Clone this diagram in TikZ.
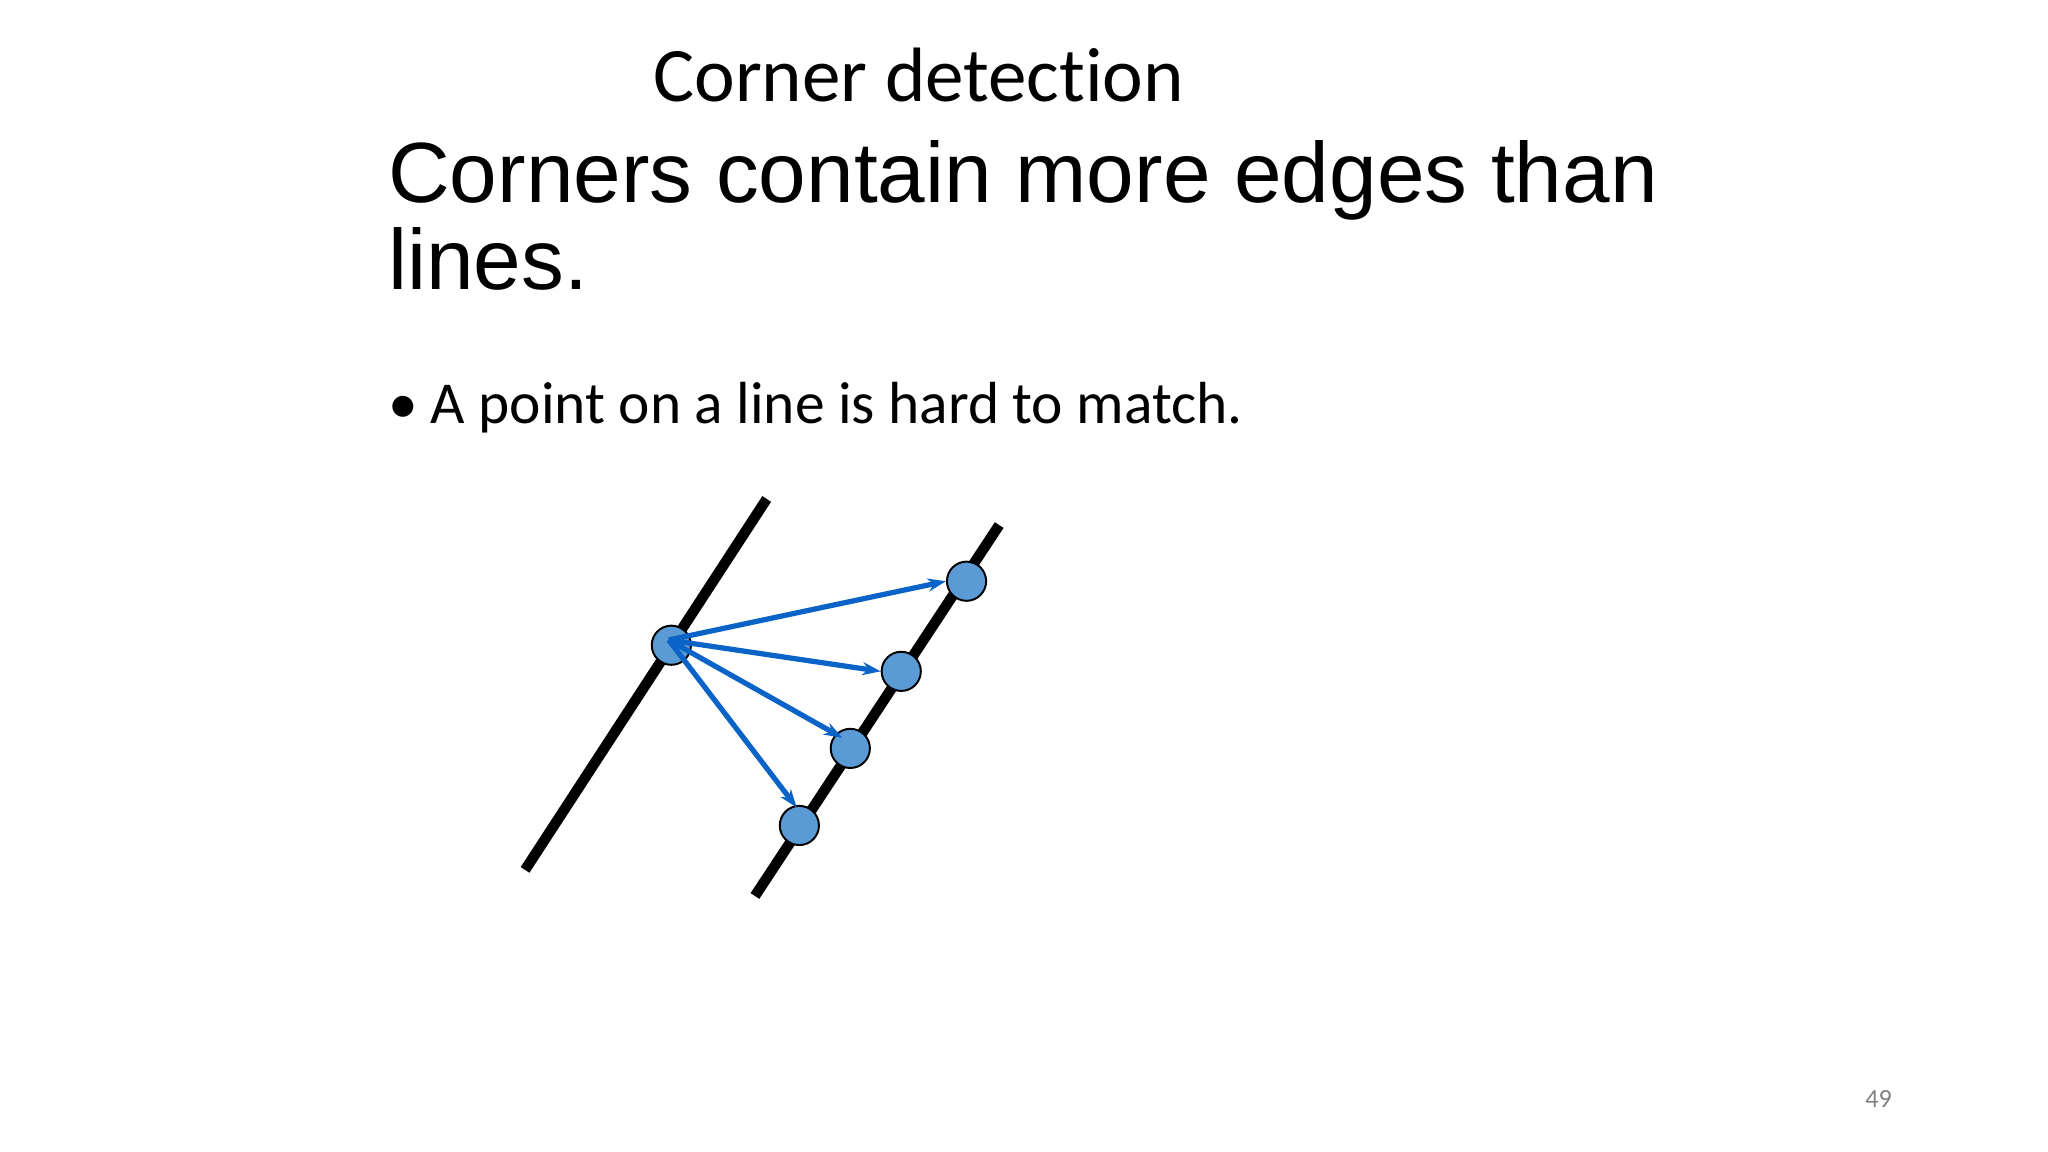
\documentclass[tikz,border=0pt]{standalone}
\usepackage{fontspec}
\setmainfont[Ligatures=NoCommon]{Carlito}
\newfontfamily\arialf{Liberation Sans}
\usetikzlibrary{arrows.meta}
\definecolor{dotblue}{RGB}{91,155,213}
\definecolor{arrblue}{RGB}{10,100,200}
\begin{document}
\begin{tikzpicture}[x=1pt,y=-1pt,
  txt/.style={anchor=base west,inner sep=0pt},
  edgeline/.style={line width=8pt},
  dot/.style={circle,draw=black,line width=1.5pt,fill=dotblue,minimum size=30pt,inner sep=0pt},
  arr/.style={arrblue,line width=4pt,-{Stealth[length=14pt,width=10pt]}}]
\useasboundingbox[fill=white] (0,0) rectangle (1568,882);
\node[txt,font=\fontsize{59}{70}\selectfont] (title) at (500,78) {Corner detection};
\node[txt,font=\arialf\fontsize{65.5}{80}\selectfont] (h1) at (297,155) {Corners contain more edges than};
\node[txt,font=\arialf\fontsize{65.5}{80}\selectfont] (h2) at (297,222) {lines.};
\node[txt,font=\fontsize{45.5}{56}\selectfont] (b) at (297,324) {•\hspace{10pt}A point on a line is hard to match.};
\node[txt,font=\fontsize{20}{24}\selectfont,text=gray] (pn) at (1428,848) {49};
\coordinate (l1a) at (402,666); \coordinate (l1b) at (587,382);
\coordinate (l2a) at (578,686); \coordinate (l2b) at (765,402);
\draw[edgeline] (l1a) -- (l1b);
\draw[edgeline] (l2a) -- (l2b);
\node[dot] (p0) at (514,494) {};
\node[dot] (q1) at (740,445) {};
\node[dot] (q2) at (690,514) {};
\node[dot] (q3) at (651,573) {};
\node[dot] (q4) at (612,632) {};
\coordinate (o) at (512,490);
\draw[arr] (o) -- (q1.west);
\draw[arr,{Stealth[length=14pt,width=10pt]}-{Stealth[length=14pt,width=10pt]}] (o) -- (q2.west);
\draw[arr] (o) -- ([shift={(5,3)}]q3.north west);
\draw[arr] (o) -- ([shift={(-2,2)}]q4.north);
\end{tikzpicture}
\end{document}
